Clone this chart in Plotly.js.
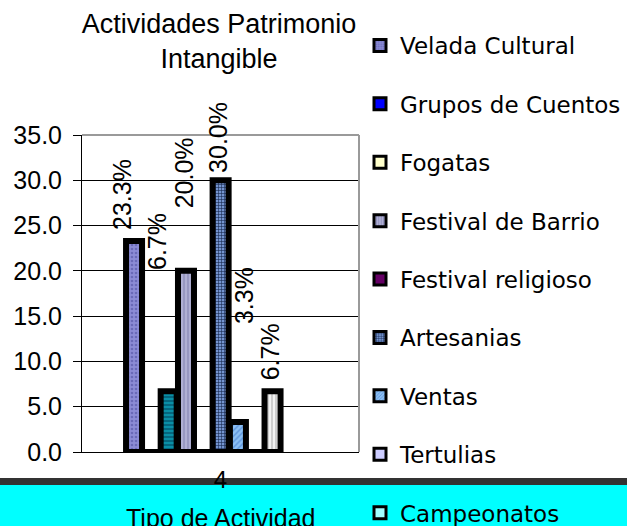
<!DOCTYPE html>
<html>
<head>
<meta charset="utf-8">
<script src="https://cdn.plot.ly/plotly-3.0.1.min.js"></script>
<style>
  html, body { margin: 0; padding: 0; background: #ffffff; }
  #chart { width: 627px; height: 526px; }
</style>
</head>
<body>
<div id="chart"></div>
<script>
// Actividades de patrimonio intangible: porcentaje por tipo de actividad
const categorias = [
  'Velada Cultural', 'Grupos de Cuentos', 'Fogatas', 'Festival de Barrio',
  'Festival religioso', 'Artesanias', 'Ventas', 'Tertulias', 'Campeonatos'
];
const porcentajes = [23.3, 0, 6.7, 20.0, 0, 30.0, 3.3, 0, 6.7];
const etiquetasX = ['4'];
const tituloEjeX = 'Tipo de Actividad';

// Relleno de cada barra (trama de Excel aproximada con patrones)
const rellenoBarra = [
  { bg: '#8c8cd6', fg: '#6a6ab8', shape: '.', size: 4 },
  { bg: '#0000ff', fg: '#0000ff', shape: '', size: 4 },
  { bg: '#0a8fa6', fg: '#02566e', shape: '-', size: 4 },
  { bg: '#b0b0d4', fg: '#8e8eba', shape: '|', size: 4 },
  { bg: '#660066', fg: '#660066', shape: '', size: 4 },
  { bg: '#7494cf', fg: '#16284e', shape: '+', size: 3 },
  { bg: '#8cc0f4', fg: '#5e94dc', shape: '/', size: 4 },
  { bg: '#ccccff', fg: '#ccccff', shape: '', size: 4 },
  { bg: '#f2f2f2', fg: '#bdbdbd', shape: '|', size: 4 }
];
// Colores que muestra la leyenda
const rellenoLeyenda = [
  { bg: '#8c8cd6', fg: '#6a6ab8', shape: '.', size: 3 },
  { bg: '#0000ff', fg: '#0000ff', shape: '', size: 3 },
  { bg: '#ffffcc', fg: '#ffffcc', shape: '', size: 3 },
  { bg: '#b0b0d4', fg: '#8e8eba', shape: '|', size: 3 },
  { bg: '#660066', fg: '#660066', shape: '', size: 3 },
  { bg: '#7494cf', fg: '#16284e', shape: '+', size: 3 },
  { bg: '#8cc0f4', fg: '#5e94dc', shape: '/', size: 3 },
  { bg: '#ccccff', fg: '#ccccff', shape: '', size: 3 },
  { bg: '#a0ffff', fg: '#a0ffff', shape: '', size: 3 }
];
// Desplazamiento (px) de cada etiqueta de valor respecto al tope de su barra
const desplEtiqueta = [
  [-12, 46], [0, 0], [-11, 150], [-2.5, 98], [0, 0],
  [-2, 43], [6, 127], [0, 0], [-2.5, 39]
];

// Geometría del grupo de barras (unidades de categoría; el eje mide 1 unidad)
const anchoBarra = 0.0578;
const pasoBarra = 0.0625;
const inicioBarra = -0.341;

const FONT = '"Liberation Sans", Arial, sans-serif';
const FONT_LEYENDA = '"DejaVu Sans", Verdana, sans-serif';

const data = [];
categorias.forEach(function (nombre, i) {
  const f = rellenoBarra[i];
  data.push({
    type: 'bar',
    name: nombre,
    x: etiquetasX,
    y: [porcentajes[i]],
    width: anchoBarra,
    offset: inicioBarra + i * pasoBarra,
    showlegend: false,
    hoverinfo: 'skip',
    marker: {
      color: f.bg,
      line: { color: '#000000', width: 6 },
      pattern: { shape: f.shape, fgcolor: f.fg, bgcolor: f.bg, size: f.size, solidity: 0.35 }
    }
  });
});
categorias.forEach(function (nombre, i) {
  const f = rellenoLeyenda[i];
  data.push({
    type: 'bar',
    name: nombre,
    x: etiquetasX,
    y: [0],
    width: anchoBarra,
    offset: inicioBarra + i * pasoBarra,
    legendgroup: 'g' + i,
    showlegend: true,
    hoverinfo: 'skip',
    marker: {
      color: f.bg,
      line: { color: '#000000', width: 3 },
      pattern: { shape: f.shape, fgcolor: f.fg, bgcolor: f.bg, size: f.size, solidity: 0.35 }
    }
  });
});

const annotations = [];
porcentajes.forEach(function (v, i) {
  if (v <= 0) return;
  annotations.push({
    xref: 'x', yref: 'y',
    x: inicioBarra + i * pasoBarra + anchoBarra / 2,
    y: v,
    text: v.toFixed(1) + '%',
    textangle: -90,
    showarrow: false,
    xanchor: 'center', yanchor: 'middle',
    xshift: desplEtiqueta[i][0],
    yshift: desplEtiqueta[i][1],
    font: { family: FONT, size: 25, color: '#000000' }
  });
});
// título del eje X, dentro de la franja inferior
annotations.push({
  xref: 'paper', yref: 'paper',
  x: 0.5, y: -0.208,
  xanchor: 'center', yanchor: 'middle',
  text: tituloEjeX,
  showarrow: false,
  font: { family: FONT, size: 25, color: '#000000' }
});

const layout = {
  width: 627,
  height: 526,
  margin: { l: 82, r: 268, t: 135, b: 74, pad: 0 },
  paper_bgcolor: '#ffffff',
  plot_bgcolor: '#ffffff',
  barmode: 'overlay',
  showlegend: true,
  title: {
    text: 'Actividades Patrimonio<br>Intangible',
    font: { family: FONT, size: 27, color: '#000000' },
    xref: 'container', yref: 'container',
    x: 219 / 627, xanchor: 'center',
    y: 1 - 33 / 526, yanchor: 'top'
  },
  xaxis: {
    type: 'category',
    range: [-0.5, 0.5],
    showgrid: false,
    showline: true, linecolor: '#000000', linewidth: 1,
    ticks: 'outside', ticklen: 6, tickcolor: 'rgba(0,0,0,0)',
    tickfont: { family: FONT, size: 24, color: '#000000' },
    automargin: false,
    fixedrange: true
  },
  yaxis: {
    range: [0, 35],
    dtick: 5,
    tickformat: '.1f',
    showgrid: true, gridcolor: '#000000', gridwidth: 1,
    showline: true, linecolor: '#000000', linewidth: 1,
    zeroline: false,
    ticks: 'outside', ticklen: 8, tickcolor: '#000000',
    ticklabelstandoff: 6,
    tickfont: { family: FONT, size: 25, color: '#000000' },
    automargin: false,
    fixedrange: true
  },
  legend: {
    xref: 'container', yref: 'container',
    x: 360 / 627, xanchor: 'left',
    y: 1 - 24 / 526, yanchor: 'top',
    bgcolor: 'rgba(0,0,0,0)',
    font: { family: FONT_LEYENDA, size: 23, color: '#000000' },
    tracegroupgap: 25.5,
    traceorder: 'grouped',
    maxheight: 700
  },
  shapes: [
    // franja inferior
    { type: 'rect', xref: 'paper', yref: 'paper', x0: -0.4, x1: 2.1, y0: -0.104, y1: -0.26,
      fillcolor: '#00ffff', line: { width: 0 }, layer: 'below' },
    { type: 'rect', xref: 'paper', yref: 'paper', x0: -0.4, x1: 2.1, y0: -0.082, y1: -0.104,
      fillcolor: '#333333', line: { width: 0 }, layer: 'below' },
    // borde gris superior y derecho del área de trazado
    { type: 'line', xref: 'paper', yref: 'paper', x0: 0, x1: 1, y0: 1, y1: 1,
      line: { color: '#9a9a9a', width: 2 }, layer: 'above' },
    { type: 'line', xref: 'paper', yref: 'paper', x0: 1, x1: 1, y0: 0, y1: 1,
      line: { color: '#9a9a9a', width: 2 }, layer: 'above' }
  ],
  annotations: annotations
};

Plotly.newPlot('chart', data, layout, { staticPlot: true, displayModeBar: false });
</script>
</body>
</html>
